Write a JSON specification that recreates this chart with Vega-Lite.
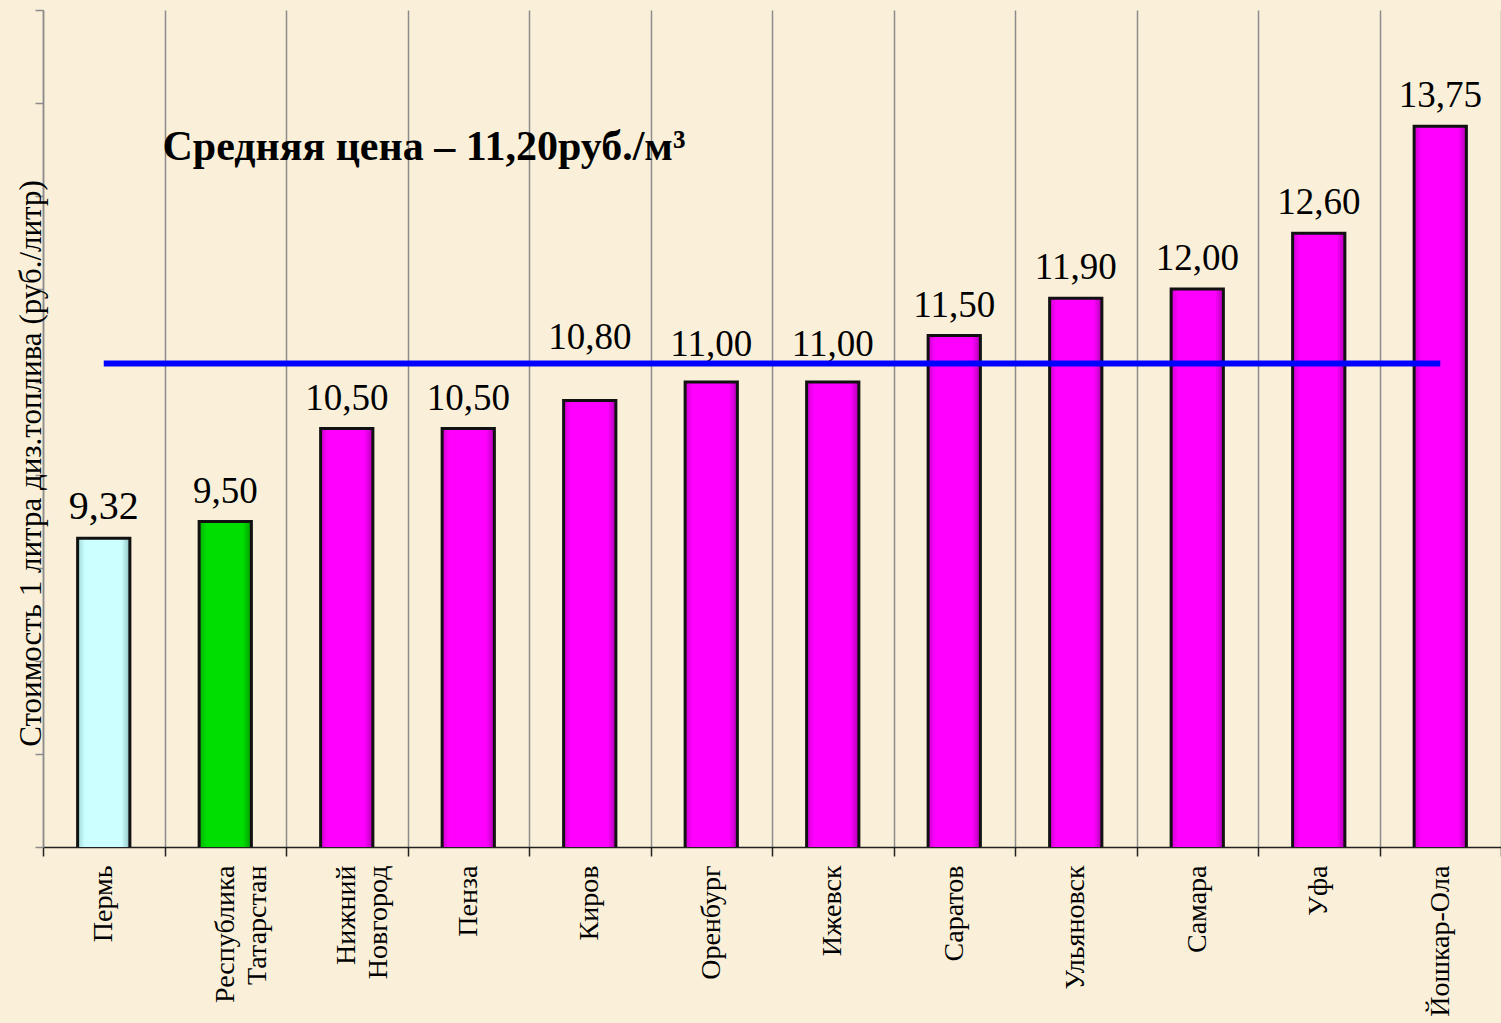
{
  "$schema": "https://vega.github.io/schema/vega-lite/v6.json",
  "autosize": {"type": "none"},
  "padding": {"left": 43, "top": 10, "right": 0, "bottom": 176},
  "width": 1458,
  "height": 837,
  "background": "#FAF0D9",
  "config": {
    "view": {"stroke": null},
    "locale": {"number": {"decimal": ",", "thousands": " ", "grouping": [3], "currency": ["", " ₽"]}},
    "font": "Liberation Serif"
  },
  "datasets": {
    "prices": [
      {"city": "Пермь", "price": 9.32},
      {"city": "Республика Татарстан", "price": 9.50},
      {"city": "Нижний Новгород", "price": 10.50},
      {"city": "Пенза", "price": 10.50},
      {"city": "Киров", "price": 10.80},
      {"city": "Оренбург", "price": 11.00},
      {"city": "Ижевск", "price": 11.00},
      {"city": "Саратов", "price": 11.50},
      {"city": "Ульяновск", "price": 11.90},
      {"city": "Самара", "price": 12.00},
      {"city": "Уфа", "price": 12.60},
      {"city": "Йошкар-Ола", "price": 13.75}
    ],
    "mean": [
      {"from": "Пермь", "to": "Йошкар-Ола", "mean": 11.2, "note": "Средняя цена – 11,20руб./м³", "anchor": "Республика Татарстан", "noteLevel": 13.39}
    ]
  },
  "encoding": {
    "x": {
      "field": "city",
      "type": "nominal",
      "scale": {
        "domain": ["Пермь", "Республика Татарстан", "Нижний Новгород", "Пенза", "Киров", "Оренбург", "Ижевск", "Саратов", "Ульяновск", "Самара", "Уфа", "Йошкар-Ола"],
        "paddingInner": 0,
        "paddingOuter": 0
      },
      "axis": {
        "title": null,
        "tickBand": "extent",
        "grid": true,
        "gridColor": "#8C8C8C",
        "gridWidth": 1.5,
        "domainColor": "#222222",
        "domainWidth": 1.5,
        "tickColor": "#222222",
        "tickWidth": 1.5,
        "tickSize": 9,
        "labelAngle": 270,
        "labelAlign": "right",
        "labelBaseline": "middle",
        "labelPadding": 9,
        "labelFont": "Liberation Serif",
        "labelFontSize": 28,
        "labelColor": "#000000",
        "labelLineHeight": 32,
        "labelLimit": 400,
        "labelOverlap": false,
        "labelExpr": "split(datum.label, ' ')"
      }
    }
  },
  "layer": [
    {
      "data": {"name": "prices"},
      "mark": {"type": "bar", "width": {"band": 0.43}, "stroke": "#111111", "strokeWidth": 3, "clip": true},
      "encoding": {
        "y": {
          "field": "price",
          "type": "quantitative",
          "scale": {"domain": [6, 15], "zero": false, "nice": false},
          "axis": {
            "title": "Стоимость 1 литра диз.топлива  (руб./литр)",
            "titleFont": "Liberation Serif",
            "titleFontSize": 31,
            "titleFontWeight": "normal",
            "titleColor": "#000000",
            "titleAngle": -90,
            "titleAlign": "center",
            "titleBaseline": "alphabetic",
            "titleX": -3,
            "titleY": 453,
            "labels": false,
            "grid": false,
            "values": [6, 7, 8, 9, 10, 11, 12, 13, 14, 15],
            "tickSize": 8,
            "tickColor": "#8C8C8C",
            "tickWidth": 1.5,
            "domainColor": "#8C8C8C",
            "domainWidth": 1.5
          }
        },
        "fill": {
          "condition": [
            {"test": "datum.city === 'Пермь'", "value": {"gradient": "linear", "x1": 0, "y1": 0, "x2": 1, "y2": 0, "stops": [{"offset": 0, "color": "#9FD8D8"}, {"offset": 0.14, "color": "#CCFFFF"}, {"offset": 0.84, "color": "#CCFFFF"}, {"offset": 1, "color": "#8FBFBF"}]}},
            {"test": "datum.city === 'Республика Татарстан'", "value": {"gradient": "linear", "x1": 0, "y1": 0, "x2": 1, "y2": 0, "stops": [{"offset": 0, "color": "#00B000"}, {"offset": 0.14, "color": "#00DD00"}, {"offset": 0.84, "color": "#00DD00"}, {"offset": 1, "color": "#009A00"}]}}
          ],
          "value": {"gradient": "linear", "x1": 0, "y1": 0, "x2": 1, "y2": 0, "stops": [{"offset": 0, "color": "#D000D0"}, {"offset": 0.14, "color": "#FF00FF"}, {"offset": 0.84, "color": "#FF00FF"}, {"offset": 1, "color": "#B000B0"}]}
        }
      }
    },
    {
      "data": {"name": "prices"},
      "transform": [{"filter": "datum.city !== 'Киров' && datum.city !== 'Оренбург' && datum.city !== 'Ижевск'"}],
      "mark": {"type": "text", "baseline": "alphabetic", "align": "center", "dy": -19, "font": "Liberation Serif", "color": "#000000"},
      "encoding": {
        "y": {"field": "price", "type": "quantitative"},
        "text": {"field": "price", "type": "quantitative", "format": ".2f"},
        "size": {"condition": {"test": "datum.city === 'Пермь'", "value": 40}, "value": 37}
      }
    },
    {
      "data": {"name": "prices"},
      "transform": [{"filter": "datum.city === 'Оренбург' || datum.city === 'Ижевск'"}],
      "mark": {"type": "text", "baseline": "alphabetic", "align": "center", "dy": -26, "font": "Liberation Serif", "color": "#000000", "fontSize": 37},
      "encoding": {
        "y": {"field": "price", "type": "quantitative"},
        "text": {"field": "price", "type": "quantitative", "format": ".2f"}
      }
    },
    {
      "data": {"name": "prices"},
      "transform": [{"filter": "datum.city === 'Киров'"}],
      "mark": {"type": "text", "baseline": "alphabetic", "align": "center", "dy": -52, "font": "Liberation Serif", "color": "#000000", "fontSize": 37},
      "encoding": {
        "y": {"field": "price", "type": "quantitative"},
        "text": {"field": "price", "type": "quantitative", "format": ".2f"}
      }
    },
    {
      "data": {"name": "mean"},
      "mark": {"type": "rule", "color": "#0000FF", "strokeWidth": 6},
      "encoding": {
        "x": {"field": "from", "type": "nominal"},
        "x2": {"field": "to"},
        "y": {"field": "mean", "type": "quantitative"}
      }
    },
    {
      "data": {"name": "mean"},
      "mark": {"type": "text", "align": "left", "baseline": "alphabetic", "dx": -2, "font": "Liberation Serif", "fontWeight": "bold", "fontSize": 42, "color": "#000000"},
      "encoding": {
        "x": {"field": "anchor", "type": "nominal", "bandPosition": 0},
        "y": {"field": "noteLevel", "type": "quantitative"},
        "text": {"field": "note"}
      }
    }
  ]
}
